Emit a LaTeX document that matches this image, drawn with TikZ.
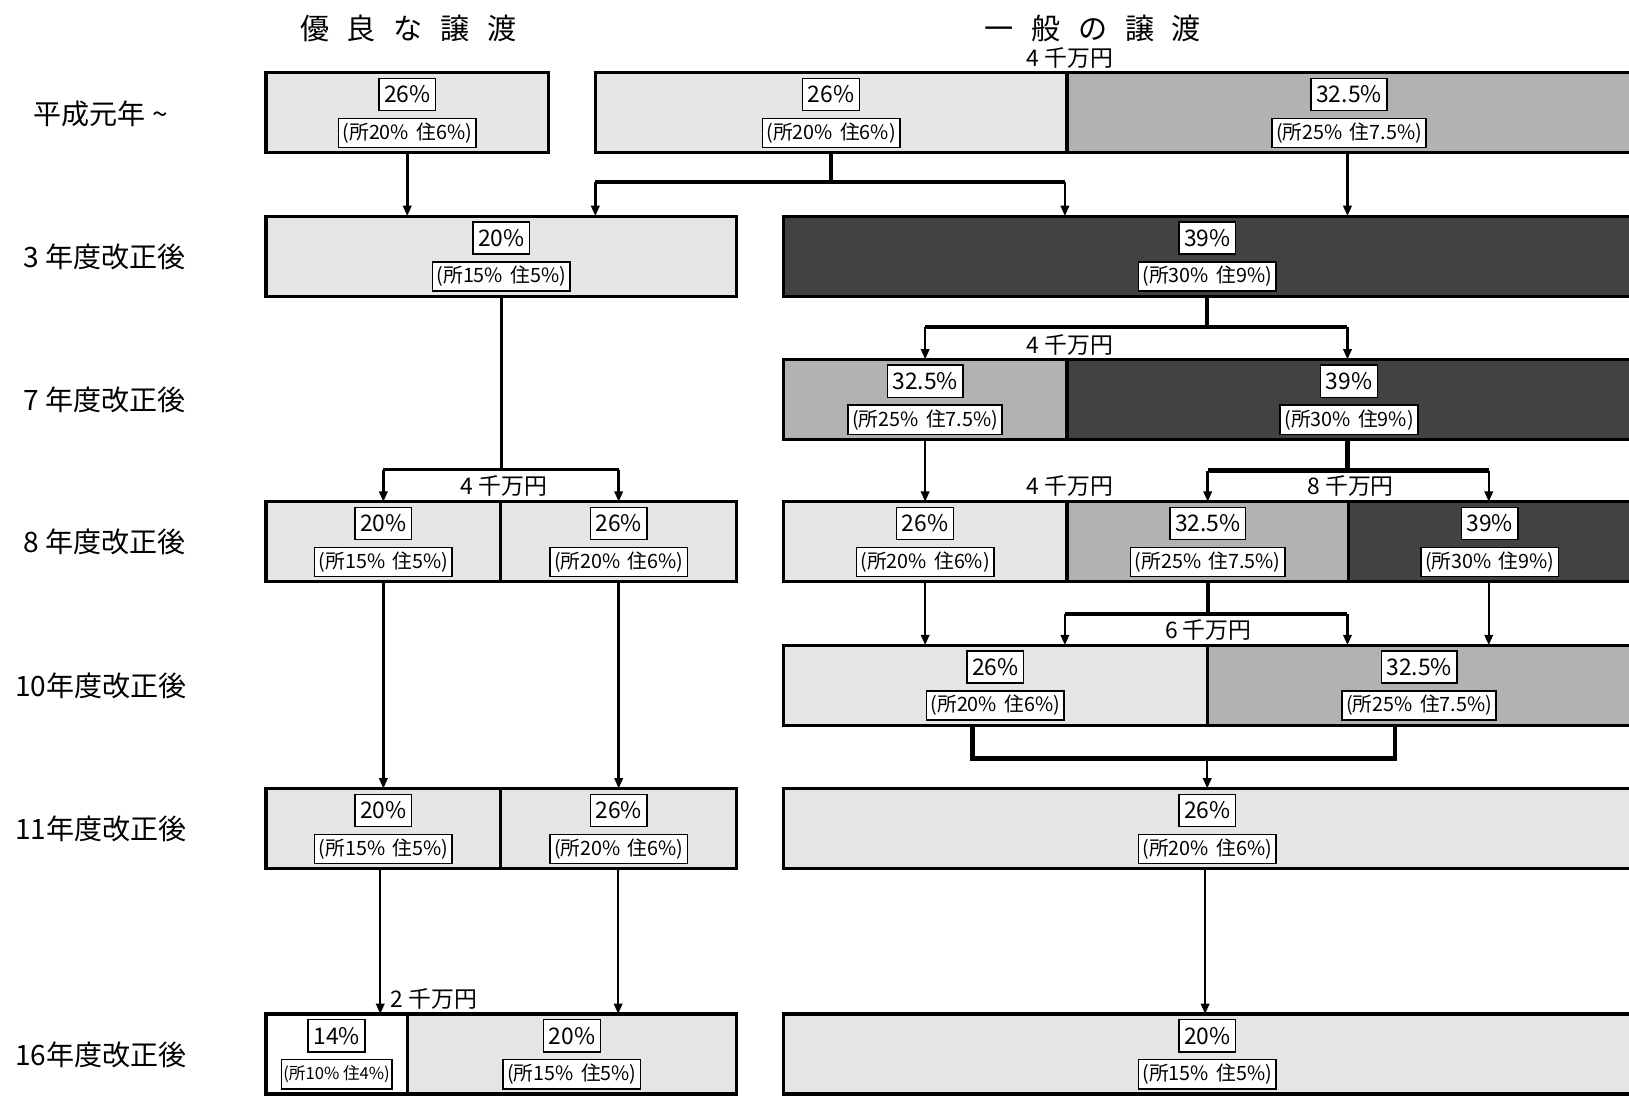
\documentclass[tikz,border=0pt]{standalone}
\usepackage{fontspec}
\setmainfont{Noto Sans CJK JP}
\usetikzlibrary{arrows.meta}
\definecolor{lightc}{gray}{0.90}
\definecolor{medc}{gray}{0.70}
\definecolor{darkc}{gray}{0.26}
\newcommand\mkcell[7]{%
  \node[#2, minimum width={#4-#3}] (#1) at (#3,#5) {};
  \node[pct] (#1p) at ([yshift=-21pt]#1.north) {#6};
  \node[subbox] (#1s) at ([yshift=-58pt]#1.north) {#7};
}
\newcommand\hs{\hspace{17pt}}
\newcommand\gp{\hspace{7pt}}
\begin{document}
\begin{tikzpicture}[x=1pt,y=-1pt,
  cell/.style={draw, line width=3pt, anchor=north west, inner sep=0pt, outer sep=0pt, minimum height=77pt},
  lt/.style={cell, fill=lightc}, md/.style={cell, fill=medc}, dk/.style={cell, fill=darkc}, wt/.style={cell, fill=white},
  pct/.style={draw, line width=1.4pt, fill=white, inner xsep=5pt, inner ysep=0pt, minimum height=31pt, font=\fontsize{22}{24}\selectfont},
  subbox/.style={draw, line width=1.4pt, fill=white, inner xsep=4pt, inner ysep=0pt, minimum height=28pt, font=\fontsize{19}{21}\selectfont},
  arr/.style={line width=2.4pt, -{Triangle[length=10pt,width=8pt]}},
  br/.style={line width=4.2pt},
  amt/.style={font=\fontsize{22}{24}\selectfont, inner sep=0pt},
  rowlab/.style={font=\fontsize{27}{29}\selectfont, inner sep=0pt},
  head/.style={font=\fontsize{28}{30}\selectfont, inner sep=0pt}]
\useasboundingbox (0,0) rectangle (1568,1055);

% headers
\node[head] (h1) at (393,27) {優\hs 良\hs な\hs 譲\hs 渡};
\node[head] (h2) at (1052,27) {一\hs 般\hs の\hs 譲\hs 渡};

% row labels
\node[rowlab] (l1) at (97,110) {平成元年 \textasciitilde};
\node[rowlab] (l2) at (101,247) {3 年度改正後};
\node[rowlab] (l3) at (101,385) {7 年度改正後};
\node[rowlab] (l4) at (101,522) {8 年度改正後};
\node[rowlab] (l5) at (97,660) {10年度改正後};
\node[rowlab] (l6) at (97,798) {11年度改正後};
\node[rowlab] (l7) at (97,1015) {16年度改正後};

% row 1
\mkcell{c1L}{lt}{256}{528}{70}{26\%}{(所20\%\gp 住6\%)}
\mkcell{c1Ra}{lt}{573}{1027}{70}{26\%}{(所20\%\gp 住6\%)}
\mkcell{c1Rb}{md}{1027}{1570}{70}{32.5\%}{(所25\%\gp 住7.5\%)}
% row 2
\mkcell{c2L}{lt}{256}{709}{208}{20\%}{(所15\%\gp 住5\%)}
\mkcell{c2R}{dk}{754}{1570}{208}{39\%}{(所30\%\gp 住9\%)}
% row 3
\mkcell{c3Ra}{md}{754}{1027}{346}{32.5\%}{(所25\%\gp 住7.5\%)}
\mkcell{c3Rb}{dk}{1027}{1570}{346}{39\%}{(所30\%\gp 住9\%)}
% row 4
\mkcell{c4La}{lt}{256}{482}{483}{20\%}{(所15\%\gp 住5\%)}
\mkcell{c4Lb}{lt}{482}{709}{483}{26\%}{(所20\%\gp 住6\%)}
\mkcell{c4Ra}{lt}{754}{1027}{483}{26\%}{(所20\%\gp 住6\%)}
\mkcell{c4Rb}{md}{1027}{1298}{483}{32.5\%}{(所25\%\gp 住7.5\%)}
\mkcell{c4Rc}{dk}{1298}{1570}{483}{39\%}{(所30\%\gp 住9\%)}
% row 5
\mkcell{c5Ra}{lt}{754}{1162}{621}{26\%}{(所20\%\gp 住6\%)}
\mkcell{c5Rb}{md}{1162}{1570}{621}{32.5\%}{(所25\%\gp 住7.5\%)}
% row 6
\mkcell{c6La}{lt}{256}{482}{759}{20\%}{(所15\%\gp 住5\%)}
\mkcell{c6Lb}{lt}{482}{709}{759}{26\%}{(所20\%\gp 住6\%)}
\mkcell{c6R}{lt}{754}{1570}{759}{26\%}{(所20\%\gp 住6\%)}
% row 7
\node[wt, minimum width=136pt] (c7La) at (256,976) {};
\node[pct] (c7Lap) at ([yshift=-21pt]c7La.north) {14\%};
\node[subbox, inner xsep=2pt, font=\fontsize{16}{18}\selectfont] (c7Las) at ([yshift=-58pt]c7La.north) {(所10\% 住4\%)};
\mkcell{c7Lb}{lt}{392}{709}{976}{20\%}{(所15\%\gp 住5\%)}
\mkcell{c7R}{lt}{754}{1570}{976}{20\%}{(所15\%\gp 住5\%)}

% amounts
\node[amt] (a1) at (1030,56) {4 千万円};
\node[amt] (a2) at (1030,332) {4 千万円};
\node[amt] (a3) at (485,468) {4 千万円};
\node[amt] (a4) at (1030,468) {4 千万円};
\node[amt] (a5) at (1300,468) {8 千万円};
\node[amt] (a6) at (1163,606) {6 千万円};
\node[amt, anchor=west] (a7) at (376,962) {2 千万円};

% junction coordinates
\coordinate (j1) at (c1Ra.south |- 0,175);
\coordinate (j2) at (c2L.south |- 0,452);
\coordinate (j3) at (c2R.south |- 0,315);
\coordinate (j4) at (c3Rb.center |- 0,453);
\coordinate (j5) at (c4Rb.south |- 0,591);
\coordinate (j6) at (1162,730);

% connectors, left column
\draw[arr] (c1L.south) -- (c1L.south |- c2L.north);
\draw[line width=2.4pt] (c2L.south) -- (j2);
\draw[line width=3.4pt] (j2 -| c4La.north) -- (j2 -| c4Lb.north);
\draw[arr] (j2 -| c4La.north) -- (c4La.north);
\draw[arr] (j2 -| c4Lb.north) -- (c4Lb.north);
\draw[arr] (c4La.south) -- (c6La.north);
\draw[arr] (c4Lb.south) -- (c6Lb.north);
\coordinate (d1) at (366,837);
\coordinate (d2) at (595,837);
\draw[arr] (d1) -- (d1 |- c7La.north);
\draw[arr] (d2) -- (d2 |- c7Lb.north);

% connectors, right column
\draw[br] (c1Ra.south) -- (j1);
\draw[br] (j1 -| c1Ra.west) -- (j1 -| 1025,0);
\draw[arr] (j1 -| c1Ra.west) -- (c1Ra.west |- c2L.north);
\draw[arr] (j1 -| 1025,0) -- (1025,0 |- c2R.north);
\draw[arr] (c1Rb.south -| 1297,0) -- (1297,0 |- c2R.north);

\draw[br] (c2R.south -| 1162,0) -- (j3);
\draw[br] (j3 -| c3Ra.north) -- (j3 -| 1297,0);
\draw[arr] (j3 -| c3Ra.north) -- (c3Ra.north);
\draw[arr] (j3 -| 1297,0) -- (1297,0 |- c3Rb.north);

\draw[arr] (c3Ra.south) -- (c3Ra.south |- c4Ra.north);
\draw[br] (c3Rb.south -| 1297,0) -- (1297,0 |- j4);
\draw[br] (j4 -| c4Rb.north) -- (j4 -| 1433,0);
\draw[arr] (j4 -| c4Rb.north) -- (c4Rb.north);
\draw[arr] (j4 -| 1433,0) -- (1433,0 |- c4Rc.north);

\draw[arr] (c4Ra.south) -- (c4Ra.south |- c5Ra.north);
\draw[br] (c4Rb.south) -- (j5);
\draw[br] (j5 -| 1025,0) -- (j5 -| 1297,0);
\draw[arr] (j5 -| 1025,0) -- (1025,0 |- c5Ra.north);
\draw[arr] (j5 -| 1297,0) -- (1297,0 |- c5Rb.north);
\draw[arr] (c4Rc.south -| 1433,0) -- (1433,0 |- c5Rb.north);

\draw[br] (936,0 |- c5Ra.south) -- (936,0 |- j6) -- (1343,0 |- j6) -- (1343,0 |- c5Rb.south);
\draw[arr] (j6) -- (j6 |- c6R.north);
\draw[arr] (c6R.south -| 1160,0) -- (1160,0 |- c7R.north);
\end{tikzpicture}
\end{document}
